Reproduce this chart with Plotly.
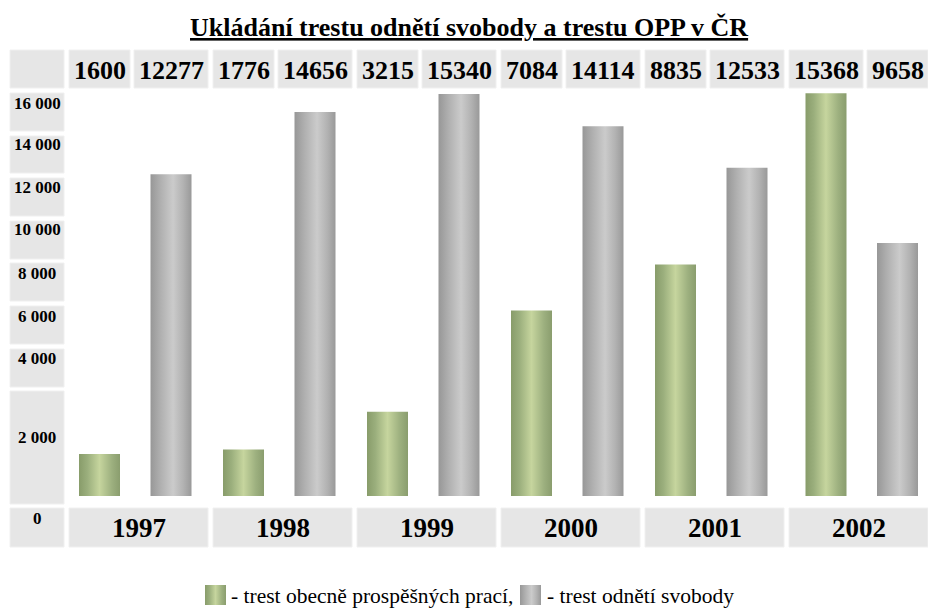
import plotly.graph_objects as go

# ---------------- data ----------------
years = ["1997", "1998", "1999", "2000", "2001", "2002"]
opp = [1600, 1776, 3215, 7084, 8835, 15368]            # trest obecně prospěšných prací
ots = [12277, 14656, 15340, 14114, 12533, 9658]        # trest odnětí svobody
tick_labels = ["16 000", "14 000", "12 000", "10 000", "8 000", "6 000", "4 000", "2 000", "0"]
title = "Ukládání trestu odnětí svobody a trestu OPP v ČR"
legend_opp = "- trest obecně prospěšných prací,"
legend_ots = "- trest odnětí svobody"

# ---------------- layout helpers ----------------
W, H = 928, 610
GROUP_PX = 144.0          # pixels per year group
G0 = 138.5                # pixel centre of first group
BAR_W = 41.0
BASE_PX = 496.0           # pixel row of value 0
K = 0.0262                # pixels per unit
CELL = "#e6e6e6"
CELL_LINE = "#f0f0f0"
SERIF = "Liberation Serif, Times New Roman, serif"

x0 = -G0 / GROUP_PX
x1 = (W - G0) / GROUP_PX
y_lo = (BASE_PX - H) / K
y_hi = BASE_PX / K

def px(x):
    return x / W

def py(y):
    return 1 - y / H

def cell_w(v):
    return 61 if len(str(v)) == 4 else 74

green_scale = [[0, "#889c6a"], [0.2, "#9aae7c"], [0.5, "#c6d59e"], [0.8, "#9db07f"], [1, "#8a9d6e"]]
grey_scale = [[0, "#979797"], [0.25, "#b0b0b0"], [0.55, "#cbcbcb"], [0.8, "#b2b2b2"], [1, "#999999"]]

fig = go.Figure()

def add_bar(xc, v, scale):
    hw = BAR_W / 2 / GROUP_PX
    fig.add_trace(go.Scatter(
        x=[xc - hw, xc + hw, xc + hw, xc - hw, xc - hw],
        y=[0, 0, v, v, 0],
        mode="lines", line=dict(width=0), fill="toself",
        fillgradient=dict(type="horizontal", colorscale=scale),
        hoverinfo="skip", showlegend=False))

shapes = []
annotations = []

def cell(xa, xb, ya, yb):
    shapes.append(dict(type="rect", xref="paper", yref="paper",
                       x0=px(xa), x1=px(xb), y0=py(yb), y1=py(ya),
                       fillcolor=CELL, line=dict(color=CELL_LINE, width=1), layer="below"))

def text(s, x, y, size, bold=True, xanchor="center"):
    annotations.append(dict(text=("<b>%s</b>" % s) if bold else s,
                            x=px(x), y=py(y), xref="paper", yref="paper",
                            xanchor=xanchor, yanchor="middle", showarrow=False,
                            font=dict(family=SERIF, size=size, color="black")))

for i, (yr, a, b) in enumerate(zip(years, opp, ots)):
    L = 69 + GROUP_PX * i
    wg = cell_w(a)
    # bars, centred under their value cells
    g_off = (wg / 2 - 69.5) / GROUP_PX
    s_off = ((wg + 4) / 2) / GROUP_PX
    add_bar(i + g_off, a, green_scale)
    add_bar(i + s_off, b, grey_scale)
    # value cells (top row)
    cell(L, L + wg, 50, 88)
    cell(L + wg + 4, L + 139, 50, 88)
    text(str(a), L + wg / 2, 70, 26)
    text(str(b), (L + wg + 4 + L + 139) / 2, 70, 26)
    # year cells (bottom row)
    cell(L, L + 139, 508, 547)
    text(yr, L + 69.5, 528, 27)

# left column
cell(10, 64, 50, 88)
tick_cells = [(93, 131), (136, 173), (178, 216), (221, 259), (263, 301),
              (306, 344), (349, 387), (391, 504), (508, 547)]
tick_text_y = [103, 145, 188, 230, 273, 316, 358, 437, 518]
for lab, (ya, yb), ty in zip(tick_labels, tick_cells, tick_text_y):
    cell(10, 64, ya, yb)
    text(lab, 37, ty, 17)

# title
text("<u>%s</u>" % title, 469, 27, 26)

# legend
text(legend_opp, 229, 596, 21.5, bold=False, xanchor="left")
text(legend_ots, 545, 596, 21.5, bold=False, xanchor="left")
for (xa, scale) in [(205, green_scale), (520, grey_scale)]:
    fig.add_trace(go.Scatter(
        x=[xa, xa + 21, xa + 21, xa, xa], y=[585, 585, 605, 605, 585],
        xaxis="x2", yaxis="y2", mode="lines", line=dict(width=0), fill="toself",
        fillgradient=dict(type="horizontal", colorscale=scale),
        hoverinfo="skip", showlegend=False))

fig.update_layout(
    width=W, height=H,
    margin=dict(l=0, r=0, t=0, b=0),
    paper_bgcolor="white", plot_bgcolor="rgba(0,0,0,0)",
    showlegend=False,
    xaxis=dict(range=[x0, x1], domain=[0, 1], visible=False, fixedrange=True),
    yaxis=dict(range=[y_lo, y_hi], domain=[0, 1], visible=False, fixedrange=True),
    xaxis2=dict(range=[0, W], domain=[0, 1], overlaying="x", visible=False, fixedrange=True),
    yaxis2=dict(range=[H, 0], domain=[0, 1], overlaying="y", visible=False, fixedrange=True),
    shapes=shapes, annotations=annotations,
)

fig.write_html("out.html", config={"displayModeBar": False},
               post_script="document.body.style.margin='0';")
